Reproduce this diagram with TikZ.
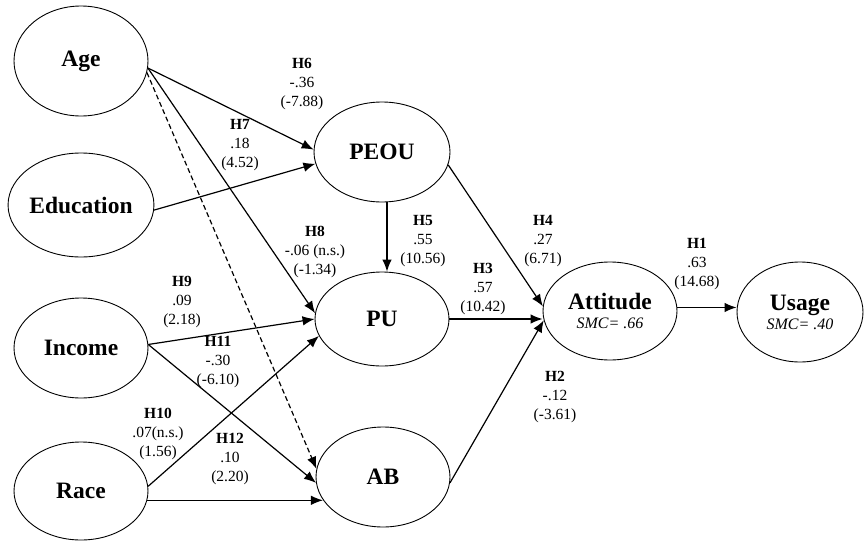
\documentclass[tikz,border=0pt]{standalone}
\usepackage{fontspec}
\setmainfont{Liberation Serif}
\usetikzlibrary{shapes.geometric,arrows.meta}
\begin{document}
\begin{tikzpicture}[x=1pt,y=-1pt,
  latent/.style={ellipse,draw,line width=0.9pt,inner sep=0pt,align=center,
    font=\fontsize{23.5}{26}\selectfont\bfseries},
  lbl/.style={align=center,inner sep=0pt,font=\fontsize{15.5}{18.8}\selectfont},
  path/.style={line width=1.2pt,-{Latex[length=12pt,width=9.5pt]}},
  dpath/.style={path,dash pattern=on 5pt off 3pt}]
\useasboundingbox (0,0) rectangle (868,541);
% constructs
\node[latent,minimum width=134pt,minimum height=110pt] (age) at (81,61) {Age};
\node[latent,minimum width=136pt,minimum height=104pt] (edu) at (81,205) {Education};
\node[latent,minimum width=134pt,minimum height=100pt] (inc) at (81,348) {Income};
\node[latent,minimum width=134pt,minimum height=98pt] (race) at (81,491) {Race};
\node[latent,minimum width=136pt,minimum height=100pt] (peou) at (382,152) {PEOU};
\node[latent,minimum width=134pt,minimum height=94pt] (pu) at (382,319) {PU};
\node[latent,minimum width=134pt,minimum height=100pt] (ab) at (383,477) {AB};
\node[latent,minimum width=134pt,minimum height=98pt] (att) at (610,311)
  {Attitude\\[-7pt]{\mdseries\itshape\fontsize{16}{18}\selectfont SMC= .66}};
\node[latent,minimum width=126pt,minimum height=100pt] (use) at (800,312)
  {Usage\\[-7pt]{\mdseries\itshape\fontsize{16}{18}\selectfont SMC= .40}};
% paths
\draw[path] (age.-6) -- (peou.178);
\draw[path] (edu.-4) -- (peou.190);
\draw[path] (age.-6) -- (pu.175);
\draw[dpath] (age.-10) -- (ab.173);
\draw[path] (inc.3) -- (pu.180);
\draw[path] (inc.3) -- (ab.185);
\draw[path] (race.4) -- (pu.195);
\draw[path] (race.-8) -- (ab.201 |- race.-8);
\draw[path] ([xshift=5pt]peou.south) -- ([xshift=5pt]pu.north);
\draw[path] (peou.-11) -- (att.176);
\draw[path] (pu.east) -- (pu.east -| att.west);
\draw[path] (ab.-5) -- (att.188);
\draw[path] (att.3) -- (att.3 -| use.west);
% labels
\node[lbl] (h6) at (302,84) {\textbf{H6}\\-.36\\(-7.88)};
\node[lbl] (h7) at (240,145) {\textbf{H7}\\.18\\(4.52)};
\node[lbl] (h5) at (423,241) {\textbf{H5}\\.55\\(10.56)};
\node[lbl] (h4) at (543,241) {\textbf{H4}\\.27\\(6.71)};
\node[lbl] (h8) at (315,252) {\textbf{H8}\\-.06 (n.s.)\\(-1.34)};
\node[lbl] (h3) at (483,289) {\textbf{H3}\\.57\\(10.42)};
\node[lbl] (h9) at (182,302) {\textbf{H9}\\.09\\(2.18)};
\node[lbl] (h11) at (218,362) {\textbf{H11}\\-.30\\(-6.10)};
\node[lbl] (h10) at (158,434) {\textbf{H10}\\.07(n.s.)\\(1.56)};
\node[lbl] (h12) at (230,459) {\textbf{H12}\\.10\\(2.20)};
\node[lbl] (h2) at (555,397) {\textbf{H2}\\-.12\\(-3.61)};
\node[lbl] (h1) at (697,264) {\textbf{H1}\\.63\\(14.68)};
\end{tikzpicture}
\end{document}
